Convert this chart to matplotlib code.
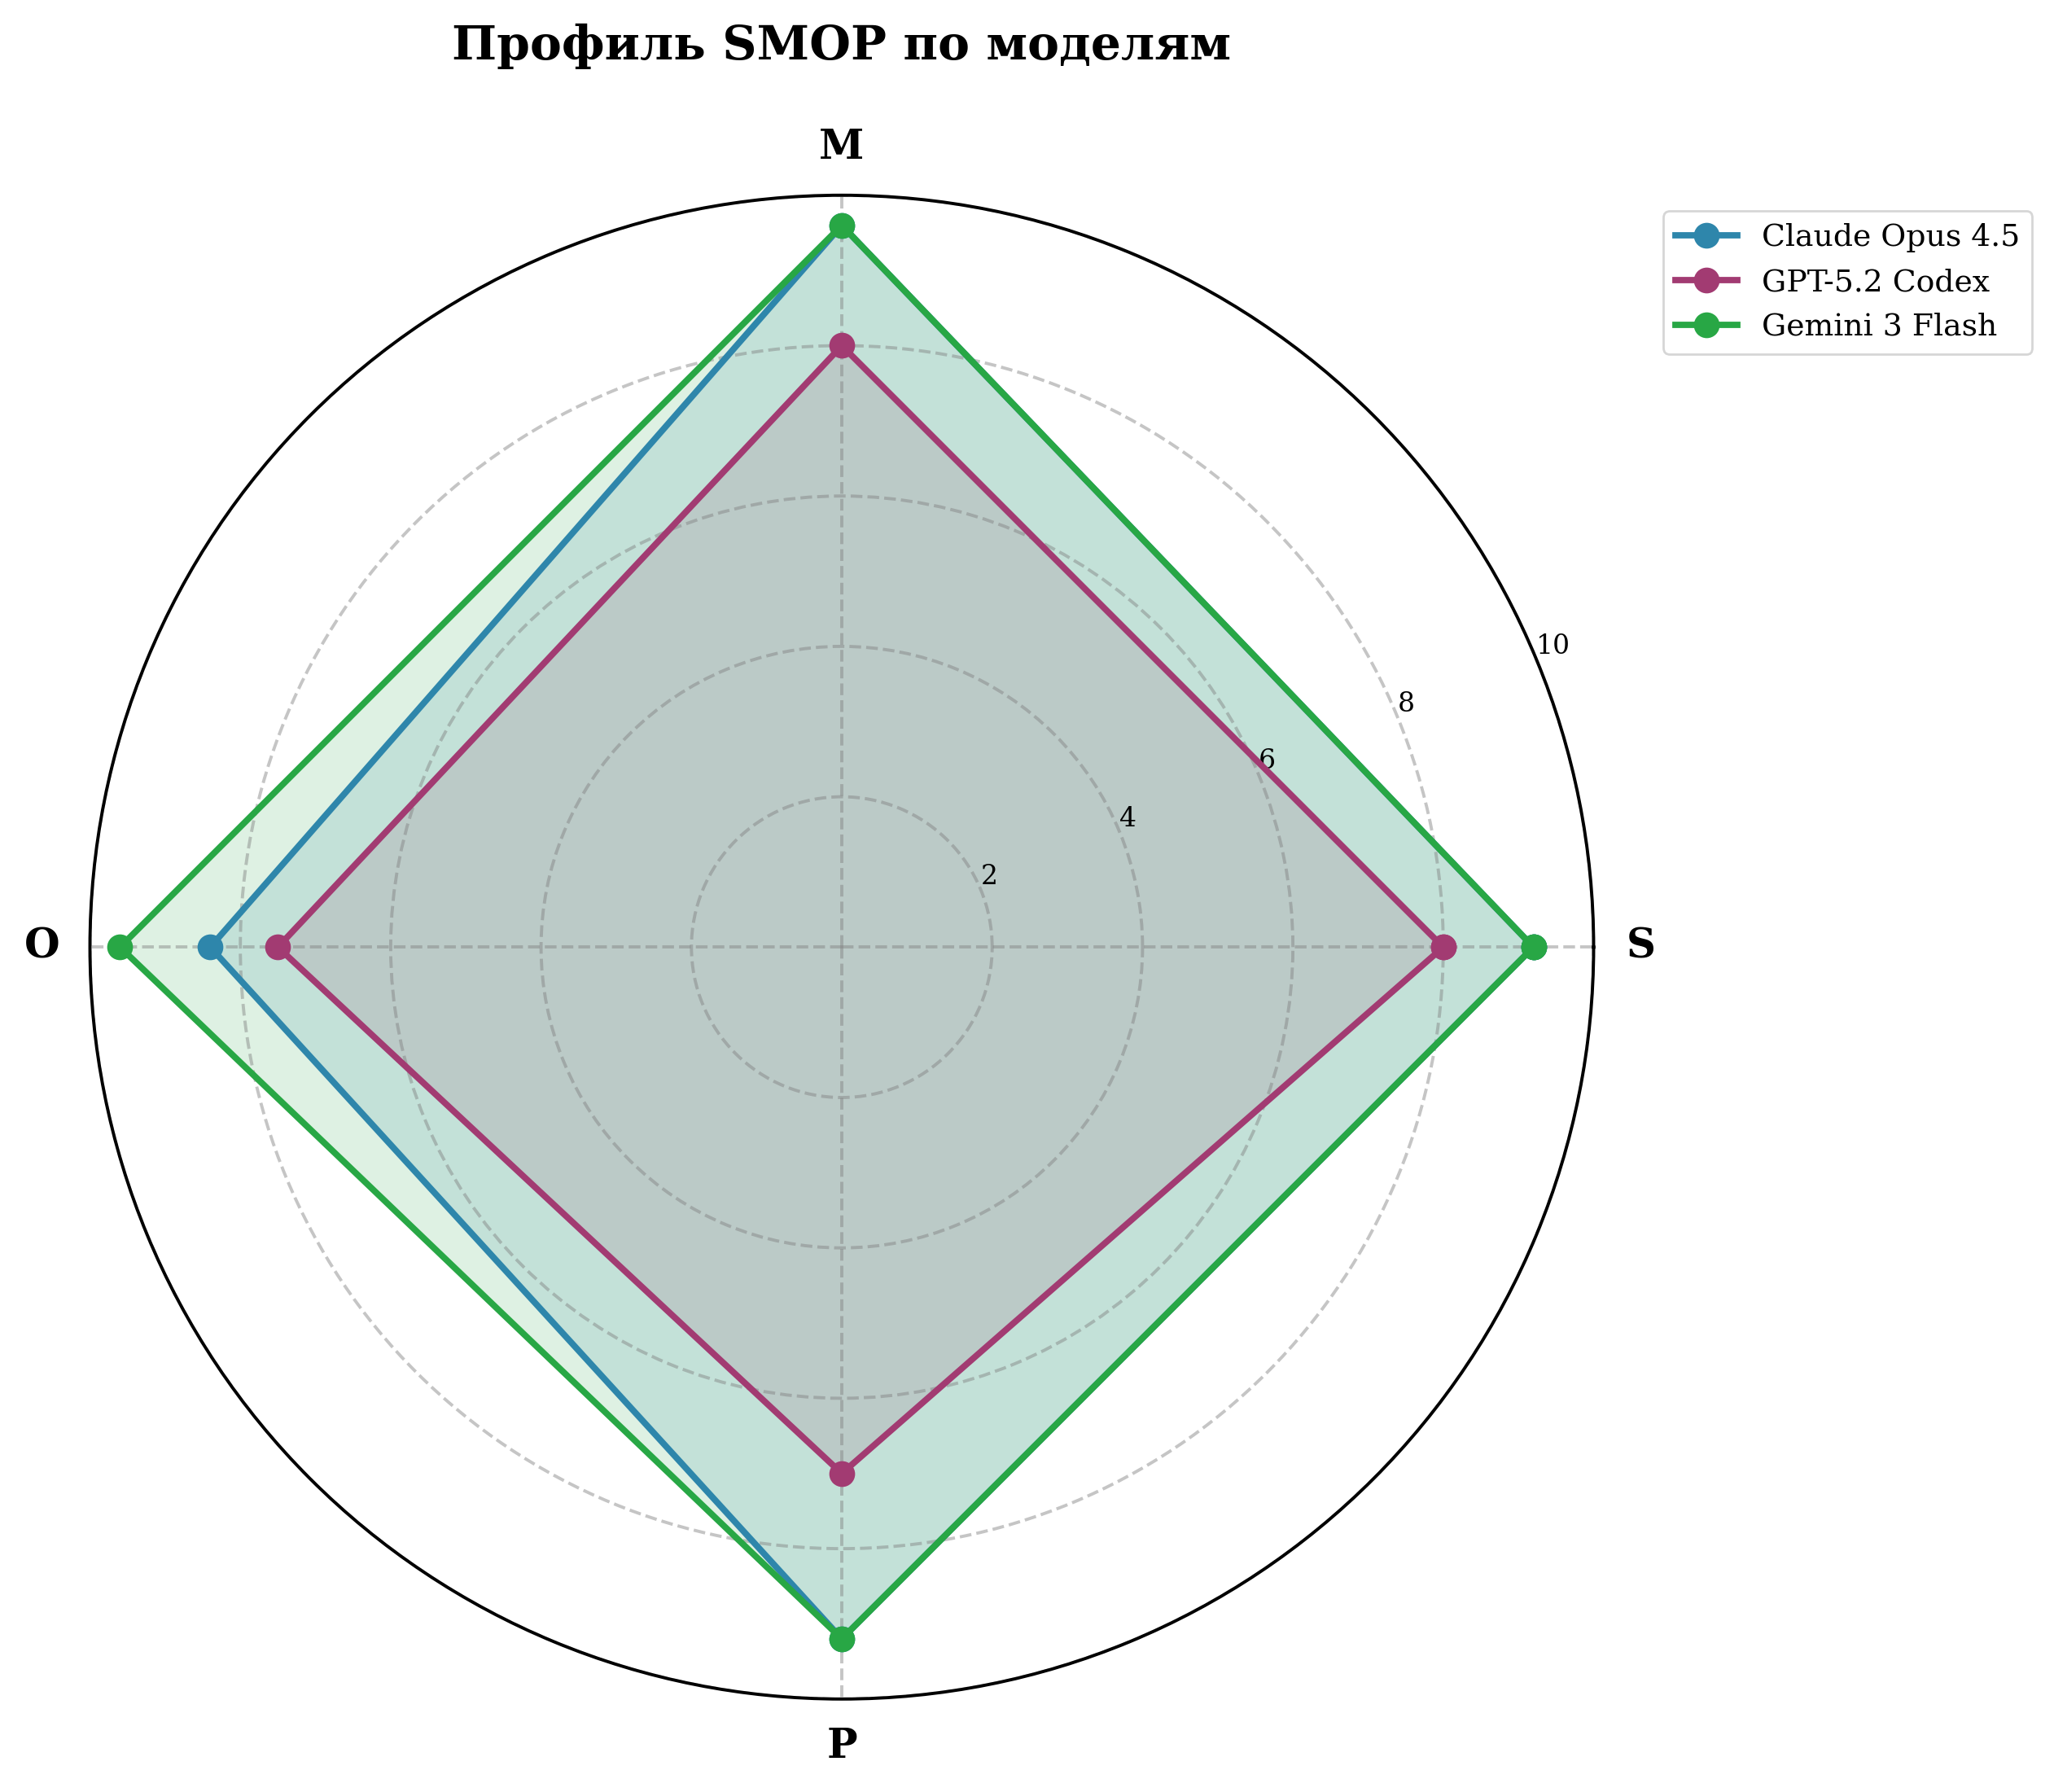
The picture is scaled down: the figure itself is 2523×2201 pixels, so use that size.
import numpy as np
import matplotlib
matplotlib.use("Agg")
import matplotlib.pyplot as plt

categories = ["S", "M", "O", "P"]
models = ["Claude Opus 4.5", "GPT-5.2 Codex", "Gemini 3 Flash"]
claude_vals = [9.2, 9.6, 8.4, 9.2]
gpt_vals = [8.0, 8.0, 7.5, 7.0]
gemini_vals = [9.2, 9.6, 9.6, 9.2]
colors = ["#2E86AB", "#A23B72", "#28A745"]
r_ticks = [2, 4, 6, 8, 10]
r_tick_labels = ["2", "4", "6", "8", "10"]
title = "Профиль SMOP по моделям"

plt.rcParams['font.family'] = ['DejaVu Serif']

W, H, DPI = 2523, 2201, 200
fig = plt.figure(figsize=(W / DPI, H / DPI), dpi=DPI)

cx, cy, R = 1034, 1163.3, 923.5
ax = fig.add_axes([(cx - R) / W, (H - cy - R) / H, 2 * R / W, 2 * R / H], projection='polar')

angles = np.linspace(0, 2 * np.pi, len(categories), endpoint=False)
ang_closed = np.concatenate([angles, angles[:1]])

for name, vals, col in zip(models, [claude_vals, gpt_vals, gemini_vals], colors):
    v = np.concatenate([vals, vals[:1]])
    ax.plot(ang_closed, v, color=col, linewidth=2.8, marker='o', markersize=10.4, label=name)
    ax.fill(ang_closed, v, color=col, alpha=0.15)

ax.set_ylim(0, 10)
ax.set_yticks(r_ticks)
ax.set_yticklabels(r_tick_labels, fontsize=11.9)
ax.set_xticks(angles)
ax.set_xticklabels(categories, fontsize=18, fontweight='bold')
ax.tick_params(axis='x', pad=10.5)
ax.grid(True, linestyle='--', color='gray', alpha=0.45, linewidth=1.4)
ax.spines['polar'].set_linewidth(1.4)

fig.text(cx / W, 1 - 73.3 / H, title, ha='center', va='baseline',
         fontsize=21, fontweight='bold')

ax.legend(loc='upper left', bbox_to_anchor=(2043 / W, 1 - 259 / H),
          bbox_transform=fig.transFigure, borderaxespad=0, fontsize=13.6)

fig.savefig("out.png", dpi=DPI)
